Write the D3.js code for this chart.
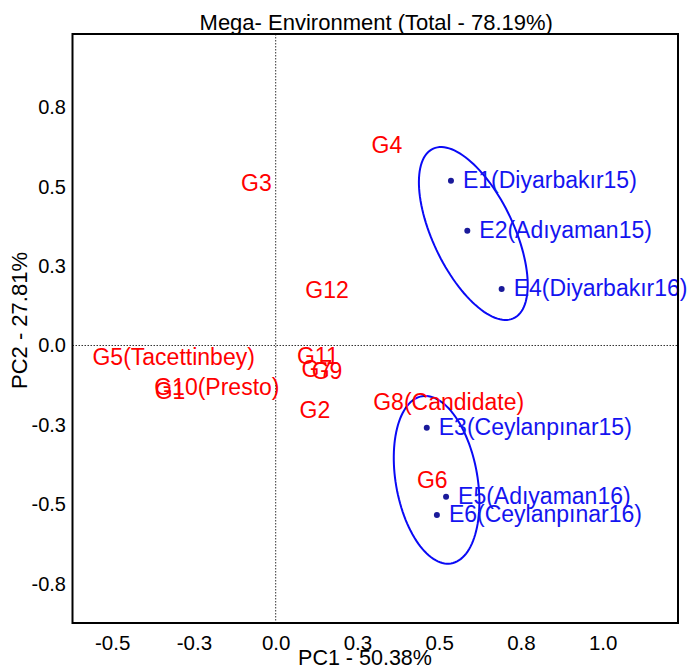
<!DOCTYPE html>
<html>
<head>
<meta charset="utf-8">
<script src="https://cdn.jsdelivr.net/npm/d3@7"></script>
<style>
  body { margin: 0; background: #fff; }
  svg text { font-family: "Liberation Sans", Arial, sans-serif; }
</style>
</head>
<body>
<script>
// genotype scores (PC1, PC2)
const genoLabels = ["G1", "G2", "G3", "G4", "G5(Tacettinbey)", "G6", "G7", "G8(Candidate)", "G9", "G10(Presto)", "G11", "G12"];
const genoPC1 = [-0.323, 0.120, -0.059, 0.340, -0.312, 0.479, 0.126, 0.529, 0.157, -0.180, 0.129, 0.157];
const genoPC2 = [-0.143, -0.203, 0.512, 0.630, -0.036, -0.424, -0.074, -0.177, -0.080, -0.131, -0.033, 0.176];

// environment scores
const envLabels = ["E1(Diyarbakır15)", "E2(Adıyaman15)", "E3(Ceylanpınar15)", "E4(Diyarbakır16)", "E5(Adıyaman16)", "E6(Ceylanpınar16)"];
const envPC1 = [0.536, 0.586, 0.462, 0.691, 0.521, 0.493];
const envPC2 = [0.519, 0.361, -0.259, 0.178, -0.476, -0.534];

// mega-environments: member indices + ellipse shape (data units, degrees)
const megaMembers = [[0, 1, 3], [2, 4, 5]];
const megaMajor = [0.294, 0.267];
const megaMinor = [0.124, 0.125];
const megaAngle = [-65.4, -80.5];

const xTicks = [-0.5, -0.25, 0, 0.25, 0.5, 0.75, 1.0];
const xTickLabels = ["-0.5", "-0.3", "0.0", "0.3", "0.5", "0.8", "1.0"];
const yTicks = [0.75, 0.5, 0.25, 0, -0.25, -0.5, -0.75];
const yTickLabels = ["0.8", "0.5", "0.3", "0.0", "-0.3", "-0.5", "-0.8"];

const width = 692, height = 669;
const margin = { left: 72.5, right: 14, top: 34, bottom: 46 };

const svg = d3.select("body").append("svg")
  .attr("width", width)
  .attr("height", height);

const x = d3.scaleLinear()
  .domain([-0.6214, 1.2303])
  .range([margin.left, width - margin.right]);

const y = d3.scaleLinear()
  .domain([-0.874, 0.981])
  .range([height - margin.bottom, margin.top]);

// zero reference lines
svg.append("line")
  .attr("x1", x(0)).attr("x2", x(0))
  .attr("y1", margin.top).attr("y2", height - margin.bottom)
  .attr("stroke", "#333").attr("stroke-width", 1).attr("stroke-dasharray", "1.5,1.5");
svg.append("line")
  .attr("x1", margin.left).attr("x2", width - margin.right)
  .attr("y1", y(0)).attr("y2", y(0))
  .attr("stroke", "#333").attr("stroke-width", 1).attr("stroke-dasharray", "1.5,1.5");

// axes (labels only)
const xAxis = d3.axisBottom(x)
  .tickValues(xTicks)
  .tickSize(0)
  .tickPadding(12)
  .tickFormat((d, i) => xTickLabels[i]);
const gx = svg.append("g")
  .attr("transform", `translate(0,${height - margin.bottom})`)
  .call(xAxis);
gx.select(".domain").remove();
gx.selectAll("text").attr("font-size", 20.5).attr("fill", "#000").style("font-family", null);

const yAxis = d3.axisLeft(y)
  .tickValues(yTicks)
  .tickSize(0)
  .tickPadding(6.5)
  .tickFormat((d, i) => yTickLabels[i]);
const gy = svg.append("g")
  .attr("transform", `translate(${margin.left},0)`)
  .call(yAxis);
gy.select(".domain").remove();
gy.selectAll("text").attr("font-size", 20).attr("fill", "#000").style("font-family", null);

// ellipses around mega-environments
const line = d3.line().x(d => x(d[0])).y(d => y(d[1]));
megaMembers.forEach((members, k) => {
  const cx = d3.mean(members, i => envPC1[i]);
  const cy = d3.mean(members, i => envPC2[i]);
  const a = megaMajor[k], b = megaMinor[k];
  const th = megaAngle[k] * Math.PI / 180;
  const pts = d3.range(0, 361, 3).map(deg => {
    const t = deg * Math.PI / 180;
    const u = a * Math.cos(t), v = b * Math.sin(t);
    return [cx + u * Math.cos(th) - v * Math.sin(th), cy + u * Math.sin(th) + v * Math.cos(th)];
  });
  svg.append("path")
    .attr("d", line(pts))
    .attr("fill", "none")
    .attr("stroke", "#0a0af5")
    .attr("stroke-width", 2);
});

// genotype labels
svg.append("g")
  .selectAll("text")
  .data(genoLabels)
  .join("text")
  .attr("x", (d, i) => x(genoPC1[i]))
  .attr("y", (d, i) => y(genoPC2[i]))
  .attr("dy", "0.35em")
  .attr("text-anchor", "middle")
  .attr("font-size", 23)
  .attr("fill", "#ff0000")
  .text(d => d);

// environment points + labels
svg.append("g")
  .selectAll("circle")
  .data(envLabels)
  .join("circle")
  .attr("cx", (d, i) => x(envPC1[i]))
  .attr("cy", (d, i) => y(envPC2[i]))
  .attr("r", 3)
  .attr("fill", "#1a1a9a");

svg.append("g")
  .selectAll("text")
  .data(envLabels)
  .join("text")
  .attr("x", (d, i) => x(envPC1[i]) + 12)
  .attr("y", (d, i) => y(envPC2[i]))
  .attr("dy", "0.3em")
  .attr("font-size", 23)
  .attr("fill", "#1414f0")
  .text(d => d);

// frame
svg.append("rect")
  .attr("x", margin.left).attr("y", margin.top)
  .attr("width", width - margin.left - margin.right)
  .attr("height", height - margin.top - margin.bottom)
  .attr("fill", "none")
  .attr("stroke", "#000")
  .attr("stroke-width", 2);

// titles
svg.append("text")
  .attr("x", (margin.left + width - margin.right) / 2 + 1)
  .attr("y", 30)
  .attr("text-anchor", "middle")
  .attr("font-size", 22)
  .text("Mega- Environment (Total - 78.19%)");

svg.append("text")
  .attr("x", 365)
  .attr("y", 665)
  .attr("text-anchor", "middle")
  .attr("font-size", 21.5)
  .text("PC1 - 50.38%");

svg.append("text")
  .attr("transform", `translate(27,${(margin.top + height - margin.bottom) / 2 - 8}) rotate(-90)`)
  .attr("text-anchor", "middle")
  .attr("font-size", 22)
  .text("PC2 - 27.81%");
</script>
</body>
</html>
